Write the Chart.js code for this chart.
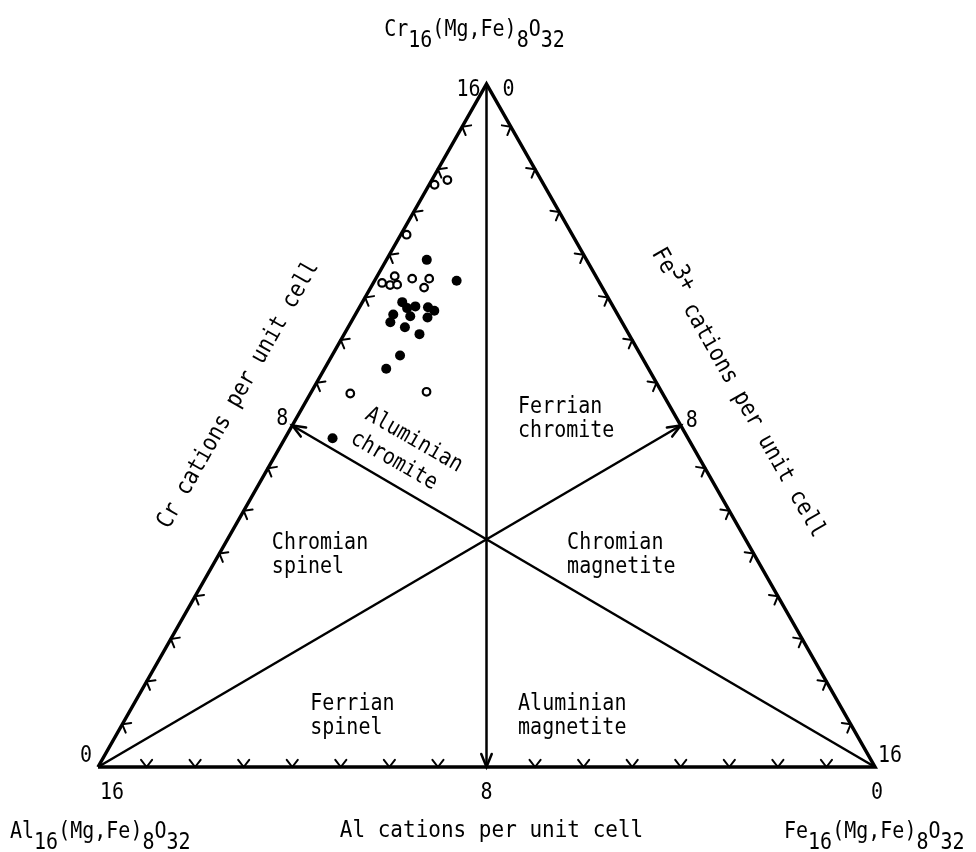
<!DOCTYPE html>
<html>
<head>
<meta charset="utf-8">
<script src="https://cdn.jsdelivr.net/npm/chart.js@4.4.0/dist/chart.umd.min.js"></script>
<style>
  html, body { margin: 0; padding: 0; background: #fff; }
  canvas { display: block; }
</style>
</head>
<body>
<canvas id="chart" width="976" height="852"></canvas>
<script>
// cations per unit cell, Cr + Al + Fe3+ = 16
const TOTAL = 16;

// open circles
const openCr = [13.75, 13.64, 12.47, 11.50, 11.34, 11.29, 11.30, 11.44, 11.44, 11.23, 8.75, 8.79];
const openFe = [0.32, 0.11, 0.12, 0.36, 0.18, 0.37, 0.51, 0.75, 1.10, 1.10, 0.82, 2.37];

// filled circles
const filledCr = [11.88, 11.39, 10.89, 10.75, 10.79, 10.77, 10.69, 10.60, 10.42, 10.56, 10.53, 10.30, 10.14, 9.64, 9.33, 7.70];
const filledFe = [0.83, 1.69, 0.82, 0.99, 1.14, 1.41, 1.58, 0.78, 0.81, 1.15, 1.52, 1.17, 1.55, 1.40, 1.27, 0.98];

// tick marks along every side (8 carries the arrow of a dividing line)
const tickValues = [1, 2, 3, 4, 5, 6, 7, 9, 10, 11, 12, 13, 14, 15];
const midValue = 8;

const regionNames = [
    ['Ferrian', 'chromite'],
    ['Chromian', 'spinel'],
    ['Chromian', 'magnetite'],
    ['Ferrian', 'spinel'],
    ['Aluminian', 'magnetite'],
    ['Aluminian', 'chromite']
];

const FONT = '"DejaVu Sans Mono", "Liberation Mono", monospace';
const STRETCH = 1.12; // the typewriter face is taller than DejaVu
const W = 976, H = 852;
// where the triangle sits on the canvas
const frame = {left: 98, right: 875, base: 767, apex: 84};

// ternary -> cartesian (x = Fe + Cr/2, y = Cr)
function toXY(cr, fe) {
    return {x: fe + cr / 2, y: cr};
}

const vAl = toXY(0, 0);
const vFe = toXY(0, TOTAL);
const vCr = toXY(TOTAL, 0);

const xUnit = (frame.right - frame.left) / TOTAL;
const yUnit = (frame.base - frame.apex) / TOTAL;

// region label anchors in chart units [x, y, rotation]
const regionPos = [
    [8.65, 8.43, 0],
    [3.58, 5.25, 0],
    [9.66, 5.25, 0],
    [4.37, 1.48, 0],
    [8.65, 1.48, 0],
    [5.54, 8.29, 30]
];

function pix(chart, p) {
    return {x: chart.scales.x.getPixelForValue(p.x), y: chart.scales.y.getPixelForValue(p.y)};
}

function unit(dx, dy) {
    const l = Math.hypot(dx, dy);
    return {x: dx / l, y: dy / l};
}

function text(ctx, s, x, y) {
    ctx.save();
    ctx.translate(x, y);
    ctx.scale(1, STRETCH);
    ctx.fillText(s, 0, 0);
    ctx.restore();
}

function drawParts(ctx, parts, x, y) {
    let cx = x;
    parts.forEach(([s, dy]) => {
        text(ctx, s, cx, y + dy);
        cx += ctx.measureText(s).width;
    });
}

function partsWidth(ctx, parts) {
    return parts.reduce((w, [s]) => w + ctx.measureText(s).width, 0);
}

const formula = (el) => [[el, 0], ['16', 11], ['(Mg,Fe)', 0], ['8', 11], ['O', 0], ['32', 11]];

const ternaryPlugin = {
    id: 'ternary',
    afterDatasetsDraw(chart) {
        const ctx = chart.ctx;
        const A = pix(chart, vAl), F = pix(chart, vFe), C = pix(chart, vCr);
        const G = {x: (A.x + F.x + C.x) / 3, y: (A.y + F.y + C.y) / 3};

        const sides = [
            {p0: A, p1: C, at: t => toXY(t, 0)},
            {p0: C, p1: F, at: t => toXY(TOTAL - t, t)},
            {p0: F, p1: A, at: t => toXY(0, TOTAL - t)}
        ];

        ctx.save();
        ctx.strokeStyle = '#000';
        ctx.lineWidth = 2;
        ctx.lineCap = 'round';
        const L = 9, ang = 38 * Math.PI / 180;
        sides.forEach(s => {
            const d = unit(s.p1.x - s.p0.x, s.p1.y - s.p0.y);
            let n = {x: -d.y, y: d.x};
            if (n.x * (G.x - s.p0.x) + n.y * (G.y - s.p0.y) < 0) n = {x: -n.x, y: -n.y};
            tickValues.forEach(t => {
                const P = pix(chart, s.at(t));
                ctx.beginPath();
                ctx.moveTo(P.x + L * (n.x * Math.cos(ang) + d.x * Math.sin(ang)), P.y + L * (n.y * Math.cos(ang) + d.y * Math.sin(ang)));
                ctx.lineTo(P.x, P.y);
                ctx.lineTo(P.x + L * (n.x * Math.cos(ang) - d.x * Math.sin(ang)), P.y + L * (n.y * Math.cos(ang) - d.y * Math.sin(ang)));
                ctx.stroke();
            });
        });

        // arrow heads at the end of the dividing lines
        const medians = [
            [vCr, toXY(0, midValue)],
            [vAl, toXY(midValue, midValue)],
            [vFe, toXY(midValue, 0)]
        ];
        const AL = 14, aang = 22 * Math.PI / 180;
        ctx.lineWidth = 2.5;
        medians.forEach(([a, b]) => {
            const P0 = pix(chart, a), P1 = pix(chart, b);
            const u = unit(P1.x - P0.x, P1.y - P0.y);
            const c = Math.cos(aang), s = Math.sin(aang);
            ctx.beginPath();
            ctx.moveTo(P1.x - AL * (u.x * c - u.y * s), P1.y - AL * (u.y * c + u.x * s));
            ctx.lineTo(P1.x, P1.y);
            ctx.lineTo(P1.x - AL * (u.x * c + u.y * s), P1.y - AL * (u.y * c - u.x * s));
            ctx.stroke();
        });
        ctx.restore();
    },
    afterDraw(chart) {
        const ctx = chart.ctx;
        const A = pix(chart, vAl), F = pix(chart, vFe), C = pix(chart, vCr);
        ctx.save();
        ctx.fillStyle = '#000';
        ctx.font = '20px ' + FONT;
        ctx.textBaseline = 'alphabetic';
        ctx.textAlign = 'left';

        // end member formulas
        const top = formula('Cr');
        drawParts(ctx, top, C.x - 12 - partsWidth(ctx, top) / 2, C.y - 48);
        drawParts(ctx, formula('Al'), 10, 838);
        drawParts(ctx, formula('Fe'), 784, 838);

        // axis numbers
        ctx.textBaseline = 'middle';
        ctx.textAlign = 'center';
        const num = (s, x, y) => text(ctx, s, x, y);
        num('16', C.x - 18, C.y + 6);
        num('0', C.x + 22, C.y + 6);
        num('0', A.x - 12, A.y - 11);
        num('16', F.x + 15, F.y - 11);
        const Ab = pix(chart, toXY(0, midValue));
        num('16', A.x + 14, A.y + 26);
        num(String(midValue), Ab.x, Ab.y + 26);
        num('0', F.x + 2, F.y + 26);
        const Lm = pix(chart, toXY(midValue, 0));
        const Rm = pix(chart, toXY(midValue, midValue));
        num(String(midValue), Lm.x - 10, Lm.y - 6);
        num(String(midValue), Rm.x + 11, Rm.y - 4);

        // axis titles
        ctx.font = '21px ' + FONT;
        text(ctx, 'Al cations per unit cell', Ab.x + 5, 831);

        ctx.textAlign = 'left';
        const crTitle = [['Cr cations per unit cell', 0]];
        let d = unit(C.x - A.x, C.y - A.y);
        let n = {x: d.y, y: -d.x};
        let m = {x: (A.x + C.x) / 2 + n.x * 62, y: (A.y + C.y) / 2 + n.y * 62};
        ctx.save();
        ctx.translate(m.x, m.y);
        ctx.rotate(Math.atan2(d.y, d.x));
        drawParts(ctx, crTitle, -partsWidth(ctx, crTitle) / 2, 0);
        ctx.restore();

        const feTitle = [['Fe', 0], ['3+', -9], [' cations per unit cell', 0]];
        d = unit(F.x - C.x, F.y - C.y);
        n = {x: d.y, y: -d.x};
        m = {x: (C.x + F.x) / 2 + n.x * 66, y: (C.y + F.y) / 2 + n.y * 66};
        ctx.save();
        ctx.translate(m.x, m.y);
        ctx.rotate(Math.atan2(d.y, d.x));
        drawParts(ctx, feTitle, -partsWidth(ctx, feTitle) / 2, 0);
        ctx.restore();

        // field names
        ctx.font = '20px ' + FONT;
        regionNames.forEach((lines, i) => {
            const [x, y, rot] = regionPos[i];
            const P = pix(chart, {x, y});
            ctx.save();
            ctx.translate(P.x, P.y);
            ctx.rotate(rot * Math.PI / 180);
            lines.forEach((s, k) => text(ctx, s, k * (rot ? -1 : 0), k * (rot ? 28 : 24)));
            ctx.restore();
        });
        ctx.restore();
    }
};

const line = (pts, width) => ({
    data: pts,
    showLine: true,
    borderColor: '#000',
    borderWidth: width,
    pointRadius: 0,
    fill: false
});

new Chart(document.getElementById('chart'), {
    type: 'scatter',
    data: {
        datasets: [
            {
                data: filledCr.map((c, i) => toXY(c, filledFe[i])),
                pointRadius: 5,
                backgroundColor: '#000',
                borderWidth: 0
            },
            {
                data: openCr.map((c, i) => toXY(c, openFe[i])),
                pointRadius: 3.8,
                backgroundColor: '#fff',
                borderColor: '#000',
                borderWidth: 2.2
            },
            line([vAl, vFe, vCr, vAl], 3.5),
            line([vCr, toXY(0, midValue)], 2.5),
            line([vAl, toXY(midValue, midValue)], 2.5),
            line([vFe, toXY(midValue, 0)], 2.5)
        ]
    },
    options: {
        responsive: false,
        animation: false,
        devicePixelRatio: 1,
        layout: {padding: 0, autoPadding: false},
        plugins: {legend: {display: false}, tooltip: {enabled: false}},
        scales: {
            x: {
                type: 'linear', display: false,
                min: -frame.left / xUnit, max: (W - frame.left) / xUnit
            },
            y: {
                type: 'linear', display: false,
                min: -(H - frame.base) / yUnit, max: frame.base / yUnit
            }
        }
    },
    plugins: [ternaryPlugin]
});
</script>
</body>
</html>
